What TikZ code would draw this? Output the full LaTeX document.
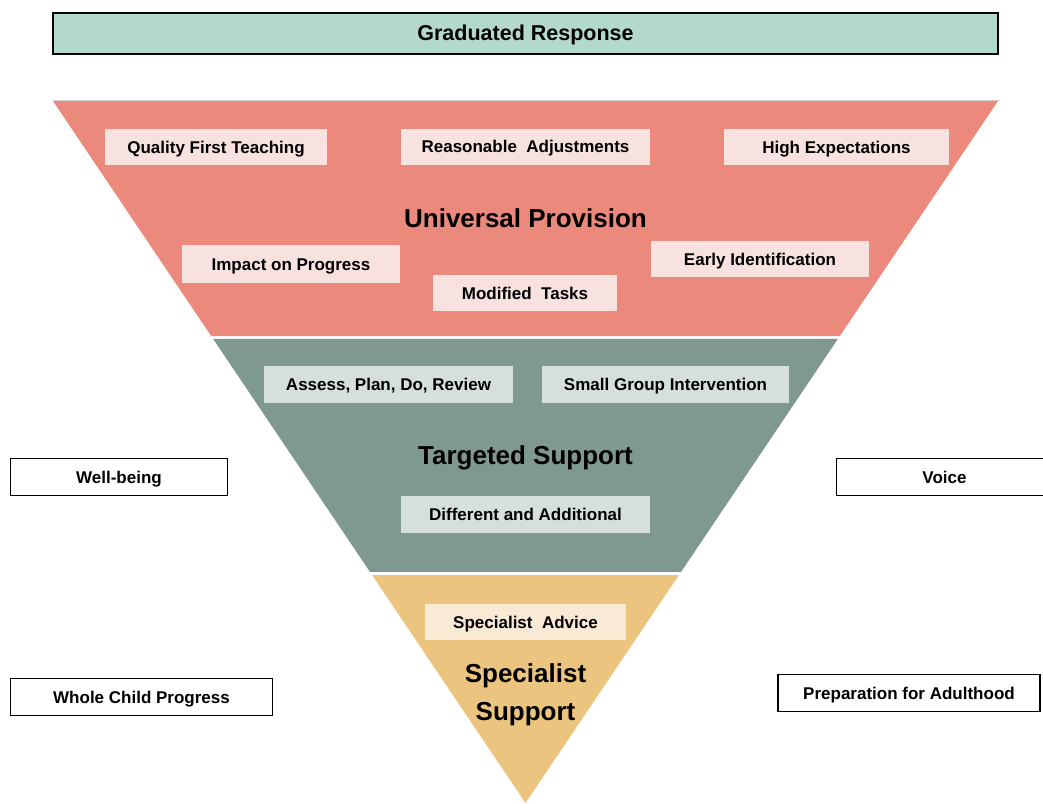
\documentclass[tikz,border=0pt]{standalone}
\usepackage{fontspec}
\setmainfont{Liberation Sans}
\usetikzlibrary{calc}
\definecolor{banner}{HTML}{B3D8CC}
\definecolor{tierA}{HTML}{EB897D}
\definecolor{tierAl}{HTML}{F8E2E0}
\definecolor{tierB}{HTML}{7F9990}
\definecolor{tierBl}{HTML}{D5DFDB}
\definecolor{tierC}{HTML}{EBC480}
\definecolor{tierCl}{HTML}{F8EAD5}
\tikzset{
  lab/.style={inner sep=0pt, minimum height=36pt, text height=12.2pt, text depth=0pt,
              font=\bfseries\fontsize{17}{20}\selectfont, text=black},
  labA/.style={lab, fill=tierAl},
  labB/.style={lab, fill=tierBl},
  labC/.style={lab, fill=tierCl},
  title/.style={inner sep=0pt, font=\bfseries\fontsize{26}{38}\selectfont, align=center},
  sidebox/.style={draw=black, line width=1.5pt, fill=white, inner sep=0pt, minimum height=37pt,
                  text height=12.2pt, text depth=0pt, font=\bfseries\fontsize{17}{20}\selectfont},
}
\begin{document}
\begin{tikzpicture}[x=1pt,y=-1pt]
\useasboundingbox (0,0) rectangle (1043,803);
% triangle corners
\coordinate (A) at (53,101);
\coordinate (B) at (998,101);
\coordinate (T) at (525.5,803);
% tiers
\fill[tierA] (A) -- (B) -- ($(B)!0.3348!(T)$) -- ($(A)!0.3348!(T)$) -- cycle;
\fill[tierB] ($(A)!0.3390!(T)$) -- ($(B)!0.3390!(T)$) -- ($(B)!0.6709!(T)$) -- ($(A)!0.6709!(T)$) -- cycle;
\fill[tierC] ($(A)!0.6752!(T)$) -- ($(B)!0.6752!(T)$) -- (T) -- cycle;
\draw[gray!35, line width=0.8pt] ($(A)+(0,-1)$) -- ($(B)+(2,-1)$);
% banner
\node[draw=black, line width=2pt, fill=banner, minimum width=945pt, minimum height=41pt, inner sep=0pt,
      text height=15.4pt, text depth=0pt,
      font=\bfseries\fontsize{21.5}{24}\selectfont] (gr) at (525.5,33) {Graduated Response};
% Universal provision
\node[labA, minimum width=222pt] (qft) at (216,147) {Quality First Teaching};
\node[labA, minimum width=249pt] (ra) at (525.5,146.5) {Reasonable\ \ Adjustments};
\node[labA, minimum width=225pt] (he) at (836.5,147) {High Expectations};
\node[title] (up) at (525.5,218) {Universal Provision};
\node[labA, minimum width=218pt, minimum height=38pt] (iop) at (291,264) {Impact on Progress};
\node[labA, minimum width=184pt] (mt) at (525,293) {Modified\ \ Tasks};
\node[labA, minimum width=218pt] (ei) at (760,259) {Early Identification};
% Targeted support
\node[labB, minimum width=249pt, minimum height=37pt] (apdr) at (388.5,384.5) {Assess,\ Plan, Do, Review};
\node[labB, minimum width=247pt, minimum height=37pt] (sgi) at (665.5,384.5) {Small Group Intervention};
\node[title] (ts) at (525.5,457.5) {Targeted Support};
\node[labB, minimum width=249pt, minimum height=37pt] (daa) at (525.5,514.5) {Different and Additional};
% Specialist support
\node[labC, minimum width=201pt] (sa) at (525.5,622) {Specialist\ \ Advice};
\node[title] (ss) at (525.5,695) {Specialist\\Support};
% side boxes
\node[sidebox, minimum width=217pt] (wb) at (119,477) {Well-being};
\node[sidebox, minimum width=216pt] (vo) at (944.5,477) {Voice};
\node[sidebox, minimum width=262pt] (wcp) at (141.5,697) {Whole Child Progress};
\node[sidebox, minimum width=262pt] (pfa) at (909,693) {Preparation for Adulthood};
\end{tikzpicture}
\end{document}
